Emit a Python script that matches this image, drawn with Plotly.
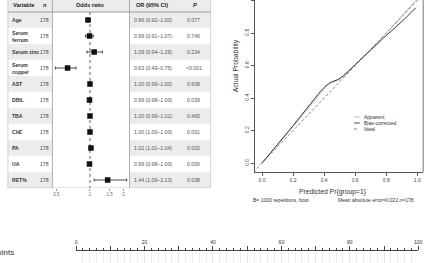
import plotly.graph_objects as go

W, H = 442, 263
FONT = "Liberation Sans, Arial, sans-serif"

# ---------------- data ----------------
variables = ["Age", "Serum<br>ferrum", "Serum zinc", "Serum<br>copper", "AST", "DBIL",
             "TBA", "ChE", "PA", "UA", "RET%"]
n_vals = [178, 178, 178, 178, 178, 178, 178, 178, 178, 178, 178]
or_vals = [0.96, 0.99, 1.09, 0.63, 1.00, 0.99, 1.00, 1.00, 1.02, 0.99, 1.44]
ci_lo = [0.92, 0.91, 0.94, 0.49, 0.99, 0.98, 0.99, 1.00, 1.01, 0.98, 1.09]
ci_hi = [1.00, 1.07, 1.29, 0.75, 1.00, 1.00, 1.01, 1.00, 1.04, 1.00, 2.13]
p_vals = ["0.077", "0.746", "0.234", "<0.001", "0.608", "0.039", "0.465",
          "0.001", "0.002", "0.006", "0.038"]
or_ticks = [0.5, 1, 1.5, 2]

pred_app = [0.0, 0.1, 0.2, 0.3, 0.4, 0.44, 0.5, 0.6, 0.7, 0.8, 0.9, 0.99]
act_app = [0.0, 0.11, 0.225, 0.34, 0.455, 0.49, 0.515, 0.605, 0.70, 0.80, 0.905, 1.0]
pred_bc = [0.0, 0.1, 0.2, 0.3, 0.4, 0.44, 0.5, 0.6, 0.7, 0.8, 0.9, 0.99]
act_bc = [0.0, 0.115, 0.23, 0.35, 0.465, 0.495, 0.52, 0.605, 0.695, 0.785, 0.87, 0.955]
cal_ticks = [0.0, 0.2, 0.4, 0.6, 0.8, 1.0]

points_ticks = [0, 10, 20, 30, 40, 50, 60, 70, 80, 90, 100]


def fx(px):
    return px / W


def fy(py):
    return 1 - py / H


fig = go.Figure()
shapes = []
ann = []

# ---------------- forest table ----------------
nrow = len(variables)
rows = list(range(nrow))
for i in rows:
    if i % 2 == 0:
        for xa, xb in [(7, 52), (130, 212)]:
            shapes.append(dict(type="rect", xref="paper", yref="y", x0=fx(xa), x1=fx(xb),
                               y0=i - 0.5, y1=i + 0.5, fillcolor="#ececec", line_width=0,
                               layer="below"))
shapes.append(dict(type="rect", xref="paper", yref="y", x0=fx(7), x1=fx(212),
                   y0=-1.25, y1=-0.5, fillcolor="#ececec", line_width=0, layer="below"))
for xp, col in [(7, "#c8c8c8"), (212, "#c8c8c8"), (52, "#999999"), (130, "#999999")]:
    shapes.append(dict(type="line", xref="paper", yref="y", x0=fx(xp), x1=fx(xp),
                       y0=-1.25, y1=nrow - 0.5, line=dict(color=col, width=0.8)))
shapes.append(dict(type="line", xref="paper", yref="y", x0=fx(7), x1=fx(212),
                   y0=-0.5, y1=-0.5, line=dict(color="#888888", width=0.8)))
shapes.append(dict(type="line", xref="paper", yref="y", x0=fx(7), x1=fx(212),
                   y0=nrow - 0.5, y1=nrow - 0.5, line=dict(color="#bbbbbb", width=0.8)))

hy = -0.94
ann += [
    dict(x=fx(10), y=hy, text="<b>Variable</b>", xanchor="left", font=dict(size=5.6, color="#222")),
    dict(x=fx(44), y=hy, text="<b><i>n</i></b>", xanchor="center", font=dict(size=5.6, color="#222")),
    dict(x=fx(91), y=hy, text="<b>Odds ratio</b>", xanchor="center", font=dict(size=5.6, color="#222")),
    dict(x=fx(153), y=hy, text="<b>OR (95% CI)</b>", xanchor="center", font=dict(size=5.6, color="#222")),
    dict(x=fx(196), y=hy, text="<b><i>P</i></b>", xanchor="center", font=dict(size=5.6, color="#222")),
]
for i in rows:
    ann.append(dict(x=fx(9.5), y=i, text="<b>%s</b>" % variables[i], xanchor="left",
                    align="left", font=dict(size=5.1, color="#333")))
    ann.append(dict(x=fx(44.5), y=i, text=str(n_vals[i]), xanchor="center",
                    font=dict(size=5.1, color="#444")))
    ann.append(dict(x=fx(133), y=i, text="%.2f (%.2f\u2013%.2f)" % (or_vals[i], ci_lo[i], ci_hi[i]),
                    xanchor="left", font=dict(size=5.2, color="#555")))
    ann.append(dict(x=fx(195), y=i, text=p_vals[i], xanchor="center",
                    font=dict(size=5.2, color="#555")))
for a in ann:
    a.setdefault("xref", "paper")
    a.setdefault("yref", "y")
    a["showarrow"] = False
    a["yanchor"] = "middle"

fig.add_trace(go.Scatter(x=[1, 1], y=[-0.5, nrow - 0.5], mode="lines", xaxis="x", yaxis="y",
                         line=dict(color="#333", width=0.8, dash="dot"), hoverinfo="skip"))
fig.add_trace(go.Scatter(
    x=or_vals, y=rows, mode="markers", xaxis="x", yaxis="y",
    marker=dict(symbol="square", size=5.5, color="#111"),
    error_x=dict(type="data", symmetric=False,
                 array=[h - o for h, o in zip(ci_hi, or_vals)],
                 arrayminus=[o - l for o, l in zip(or_vals, ci_lo)],
                 thickness=0.8, width=1.5, color="#222")))

# ---------------- calibration ----------------
fig.add_trace(go.Scatter(x=[-0.1, 1.1], y=[-0.1, 1.1], mode="lines", xaxis="x2", yaxis="y2",
                         line=dict(color="#666", width=0.8, dash="3px,2px")))
fig.add_trace(go.Scatter(x=pred_app, y=act_app, mode="lines", xaxis="x2", yaxis="y2",
                         line=dict(color="#aaaaaa", width=0.8, shape="spline")))
fig.add_trace(go.Scatter(x=pred_bc, y=act_bc, mode="lines", xaxis="x2", yaxis="y2",
                         line=dict(color="#222", width=0.9, shape="spline")))
shapes.append(dict(type="line", xref="paper", yref="paper", x0=fx(427), x1=fx(427),
                   y0=fy(172), y1=1, line=dict(color="#555", width=0.8)))
ann += [
    dict(xref="paper", yref="paper", x=fx(336), y=fy(192), xanchor="center", yanchor="middle",
         text="Predicted Pr{group=1}", showarrow=False, font=dict(size=6.8, color="#333")),
    dict(xref="paper", yref="paper", x=fx(238), y=fy(66), xanchor="center", yanchor="middle",
         text="Actual Probability", textangle=-90, showarrow=False,
         font=dict(size=6.8, color="#333")),
    dict(xref="paper", yref="paper", x=fx(253), y=fy(200), xanchor="left", yanchor="middle",
         text="B= 1000 repetitions, boot", showarrow=False, font=dict(size=5, color="#333")),
    dict(xref="paper", yref="paper", x=fx(420), y=fy(200), xanchor="right", yanchor="middle",
         text="Mean absolute error=0.022 n=178", showarrow=False, font=dict(size=5, color="#333")),
]
leg = [("Apparent", "#aaaaaa", "solid"), ("Bias-corrected", "#222", "solid"), ("Ideal", "#666", "dot")]
for k, (lab, col, dsh) in enumerate(leg):
    yy = 117 + 6 * k
    shapes.append(dict(type="line", xref="paper", yref="paper", x0=fx(357), x1=fx(363),
                       y0=fy(yy), y1=fy(yy), line=dict(color=col, width=0.8, dash=dsh)))
    ann.append(dict(xref="paper", yref="paper", x=fx(365), y=fy(yy), xanchor="left",
                    yanchor="middle", text=lab, showarrow=False, font=dict(size=5, color="#333")))

# ---------------- nomogram points scale ----------------
fig.add_trace(go.Scatter(x=[0, 100], y=[0.5, 0.5], mode="markers", xaxis="x3", yaxis="y3",
                         marker=dict(opacity=0), hoverinfo="skip"))
ann.append(dict(xref="paper", yref="paper", x=fx(-11), y=fy(252), xanchor="left",
                yanchor="middle", text="Points", showarrow=False, font=dict(size=8, color="#333")))

fig.update_layout(
    width=W, height=H, margin=dict(l=0, r=0, t=0, b=0),
    paper_bgcolor="white", plot_bgcolor="rgba(0,0,0,0)",
    showlegend=False, font=dict(family=FONT, color="#333"),
    shapes=shapes, annotations=ann,
    xaxis=dict(domain=[fx(52), fx(130)], type="log", range=[-0.3367, 0.3542], anchor="y",
               tickvals=or_ticks, ticktext=[str(t) for t in or_ticks], ticks="outside",
               ticklen=2, tickcolor="#999", tickfont=dict(size=4.5, color="#666"),
               showgrid=False, zeroline=False, showline=False),
    yaxis=dict(domain=[fy(188), 1], range=[nrow - 0.5, -1.25], visible=False),
    xaxis2=dict(domain=[fx(257), fx(427)], range=[-0.0446, 1.038], anchor="y2",
                tickvals=cal_ticks, ticktext=["%.1f" % t for t in cal_ticks],
                ticks="outside", ticklen=3, tickcolor="#555", showline=True, linecolor="#555",
                linewidth=0.8, tickfont=dict(size=5, color="#444"), showgrid=False, zeroline=False),
    yaxis2=dict(domain=[fy(172), 1], range=[-0.055, 1.003], anchor="x2",
                tickvals=cal_ticks, ticktext=["%.1f" % t for t in cal_ticks], tickangle=-90,
                ticks="outside", ticklen=3, tickcolor="#555", showline=True, linecolor="#555",
                linewidth=0.8, tickfont=dict(size=5, color="#444"), showgrid=False, zeroline=False),
    xaxis3=dict(domain=[fx(76), fx(422)], range=[0, 100], anchor="y3", side="top",
                tickvals=points_ticks,
                ticktext=[str(t) if t % 20 == 0 else "" for t in points_ticks],
                ticks="outside", ticklen=4, tickcolor="#444", showline=True, linecolor="#444",
                linewidth=0.8, tickfont=dict(size=5, color="#333"),
                showgrid=True, gridcolor="#e6e6e6", gridwidth=0.7, zeroline=False,
                minor=dict(dtick=2, ticklen=2, ticks="outside", tickcolor="#444",
                           showgrid=True, gridcolor="#ededed", gridwidth=0.7)),
    yaxis3=dict(domain=[0, fy(251)], range=[0, 1], visible=False),
)

fig.write_html("out.html")
